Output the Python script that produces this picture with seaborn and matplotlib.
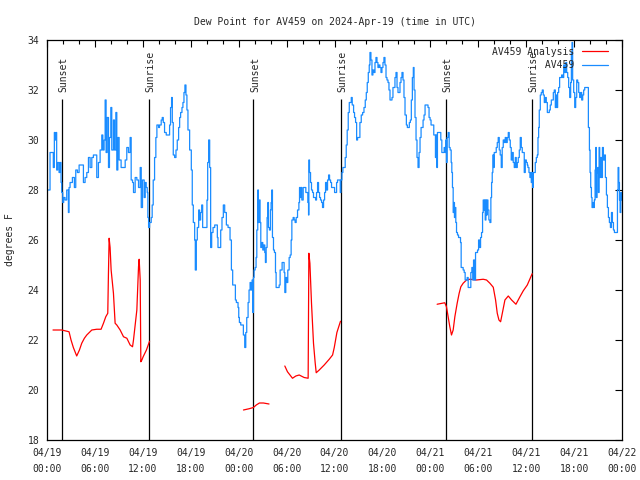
import pandas as pd
import numpy as np
import seaborn as sns
import matplotlib.pyplot as plt
import matplotlib.dates as mdates

# hours after 2024-04-19 00:00 UTC
blue_hours = [
    0.0, 0.17, 0.38, 0.67, 0.79, 0.92, 1.0, 1.13, 1.21, 1.34,
    1.51, 1.63, 1.76, 1.84, 1.97, 2.09, 2.26, 2.47, 2.68, 2.76,
    2.89, 3.18, 3.43, 3.60, 3.81, 4.02, 4.35, 4.56, 4.77, 4.98,
    5.19, 5.40, 5.61, 5.81, 6.02, 6.23, 6.44, 6.65, 6.86, 6.99,
    7.15, 7.28, 7.40, 7.53, 7.70, 7.82, 7.99, 8.11, 8.32, 8.45,
    8.62, 8.74, 8.87, 9.03, 9.28, 9.58, 9.79, 9.99, 10.20, 10.41,
    10.54, 10.71, 10.83, 11.04, 11.25, 11.46, 11.67, 11.80, 11.96,
    12.05, 12.17, 12.30, 12.42, 12.55, 12.63, 12.72, 12.84, 13.05, 13.17,
    13.30, 13.47, 13.63, 13.76, 13.97, 14.09, 14.30, 14.43, 14.56, 14.72,
    14.93, 15.14, 15.35, 15.47, 15.60, 15.69, 15.81, 15.98, 16.15, 16.31,
    16.48, 16.61, 16.73, 16.90, 17.02, 17.15, 17.27, 17.40, 17.52, 17.65,
    17.86, 18.07, 18.19, 18.32, 18.49, 18.57, 18.70, 18.82, 18.99, 19.11,
    19.24, 19.37, 19.49, 19.66, 19.82, 20.03, 20.12, 20.24, 20.37, 20.49,
    20.62, 20.79, 21.00, 21.20, 21.33, 21.41, 21.62, 21.75, 21.91, 22.08,
    22.25, 22.46, 22.67, 22.92, 23.09, 23.25, 23.42, 23.59, 23.71, 23.92, 24.01,
    24.09, 24.26, 24.47, 24.59, 24.76, 24.89, 25.01, 25.18, 25.30, 25.43,
    25.55, 25.68, 25.76, 25.85, 25.93, 26.06, 26.18, 26.27, 26.39, 26.47,
    26.56, 26.68, 26.77, 26.89, 27.02, 27.14, 27.27, 27.35, 27.44, 27.56,
    27.65, 27.73, 27.85, 27.98, 28.06, 28.15, 28.23, 28.36, 28.48, 28.61,
    28.69, 28.86, 29.07, 29.19, 29.32, 29.44, 29.57, 29.69, 29.78, 29.90,
    30.03, 30.15, 30.32, 30.45, 30.57, 30.66, 30.82, 30.95, 31.07, 31.20,
    31.37, 31.54, 31.62, 31.70, 31.79, 31.91, 32.08, 32.20, 32.41, 32.54,
    32.66, 32.75, 32.79, 32.87, 33.00, 33.12, 33.25, 33.37, 33.50, 33.63,
    33.75, 33.88, 34.00, 34.13, 34.25, 34.38, 34.50, 34.63, 34.76, 34.88,
    35.01, 35.13, 35.26, 35.38, 35.51, 35.63, 35.76, 35.88, 36.01,
    36.13, 36.26, 36.38, 36.63, 36.72, 36.80, 36.93, 37.05, 37.22, 37.34,
    37.47, 37.59, 37.72, 37.85, 37.97, 38.10, 38.22, 38.39, 38.51, 38.64,
    38.77, 38.89, 39.06, 39.18, 39.35, 39.52, 39.69, 39.85, 39.98, 40.10,
    40.23, 40.35, 40.44, 40.56, 40.69, 40.81, 40.94, 41.07, 41.19, 41.32,
    41.44, 41.57, 41.69, 41.82, 41.94, 42.07, 42.19, 42.32, 42.45, 42.57,
    42.70, 42.82, 42.95, 43.07, 43.20, 43.32, 43.45, 43.57, 43.70, 43.83,
    43.95, 44.08, 44.20, 44.33, 44.45, 44.58, 44.70, 44.83, 45.00, 45.12,
    45.25, 45.37, 45.50, 45.62, 45.75, 45.87, 45.96, 46.08, 46.21, 46.33,
    46.46, 46.59, 46.71, 46.84, 46.96, 47.09, 47.21, 47.34, 47.46, 47.59,
    47.71, 47.84, 47.97, 48.09,
    48.43, 48.56, 48.64, 48.72, 48.81, 48.89, 49.02, 49.18, 49.31, 49.44,
    49.60, 49.73, 49.85, 49.94, 50.02, 50.10, 50.23, 50.36, 50.48, 50.61,
    50.69, 50.77, 50.86, 50.94, 51.02, 51.11, 51.19, 51.28, 51.40, 51.53,
    51.65, 51.78, 51.86, 51.99, 52.11, 52.24, 52.36, 52.49, 52.61, 52.74,
    52.86, 52.99, 53.07, 53.20, 53.32, 53.41, 53.53, 53.66, 53.78, 53.91,
    54.04, 54.16, 54.29, 54.41, 54.54, 54.62, 54.70, 54.79, 54.87, 54.96,
    55.04, 55.12, 55.21, 55.33, 55.46, 55.58, 55.67, 55.75, 55.83, 55.92,
    56.00, 56.13, 56.25, 56.38, 56.50, 56.63, 56.75, 56.88, 57.00, 57.13,
    57.26, 57.38, 57.51, 57.63, 57.76, 57.88, 58.01, 58.13, 58.26, 58.38,
    58.51, 58.64, 58.76, 58.89, 59.01, 59.14, 59.26, 59.39, 59.51, 59.64,
    59.76, 59.89, 60.02, 60.14,
    60.22, 60.35, 60.47, 60.56, 60.64, 60.72, 60.81, 60.89, 61.02, 61.14,
    61.27, 61.39, 61.48, 61.56, 61.64, 61.77, 61.89, 62.02, 62.14, 62.27,
    62.40, 62.52, 62.65, 62.77, 62.90, 63.02, 63.15, 63.27, 63.40, 63.52,
    63.65, 63.73, 63.82, 63.94, 64.07, 64.19, 64.32, 64.44, 64.57, 64.70,
    64.82, 64.95, 65.07, 65.20, 65.32, 65.45, 65.57, 65.66, 65.74, 65.82,
    65.95, 66.08, 66.20, 66.33, 66.45, 66.58, 66.70, 66.83, 66.95, 67.08,
    67.20, 67.33, 67.50, 67.67, 67.79, 67.92, 68.00, 68.08, 68.17, 68.25,
    68.38, 68.46, 68.54, 68.63, 68.71, 68.79, 68.88, 68.96, 69.05, 69.13,
    69.21, 69.30, 69.42, 69.55, 69.67, 69.80, 69.92, 70.05, 70.17, 70.30,
    70.42, 70.55, 70.68, 70.80, 70.93, 71.05, 71.18, 71.30, 71.43, 71.51,
    71.60, 71.68, 71.76, 71.85, 71.93,
]
blue_dew = [
    28.0, 28.0, 29.5, 29.5, 28.9, 30.3, 30.0, 30.3, 28.8, 29.1,
    28.7, 29.1, 28.3, 27.9, 27.5, 27.7, 27.6, 28.0, 27.1, 28.1,
    28.3, 28.5, 28.1, 28.8, 28.7, 29.0, 29.0, 28.3, 28.5, 28.7,
    29.3, 28.9, 29.3, 29.4, 29.4, 28.5, 29.1, 29.6, 30.2, 29.6,
    30.0, 31.6, 29.5, 30.9, 28.9, 30.1, 31.3, 29.6, 30.8, 29.6,
    31.1, 28.8, 30.1, 29.2, 28.9, 28.9, 29.2, 29.7, 29.5, 30.1,
    28.4, 28.3, 27.9, 28.5, 28.4, 28.1, 28.9, 27.3, 28.4,
    28.4, 27.7, 28.3, 28.1, 27.9, 26.9, 26.5, 26.7, 26.9, 27.4,
    28.4, 29.3, 30.1, 30.6, 30.5, 30.6, 30.8, 30.9, 30.7, 30.3,
    30.2, 30.2, 30.6, 31.3, 31.7, 30.7, 29.4, 29.3, 29.6, 30.0,
    30.5, 30.9, 31.1, 31.3, 31.5, 31.9, 32.2, 31.8, 31.2, 30.4,
    29.6, 28.8, 27.4, 26.7, 26.0, 24.8, 26.0, 26.5, 27.2, 26.8,
    27.1, 27.4, 26.5, 26.5, 26.5, 27.6, 29.1, 30.0, 28.9, 25.7,
    26.3, 26.5, 26.6, 26.6, 26.1, 25.7, 25.7, 26.4, 26.9, 27.4,
    27.1, 26.6, 26.5, 26.0, 24.8, 24.2, 24.2, 23.6, 23.5, 23.3, 22.9,
    22.7, 22.6, 22.6, 22.2, 21.7, 22.3, 22.9, 23.5, 24.0, 24.3,
    24.0, 24.4, 23.1, 24.5, 24.8, 24.9, 25.3, 26.4, 28.0, 26.7,
    27.6, 26.7, 25.7, 25.9, 25.6, 25.8, 25.5, 25.1, 25.7, 26.9,
    27.5, 26.5, 26.4, 27.2, 27.5, 28.0, 26.1, 25.6, 25.5, 24.7,
    24.1, 24.1, 24.2, 24.8, 24.8, 25.1, 25.1, 24.7, 23.9, 24.5,
    24.3, 24.8, 25.3, 25.4, 26.0, 26.8, 26.9, 26.8, 26.7, 26.9,
    27.2, 27.5, 28.1, 27.7, 28.1, 27.6, 28.1, 28.1, 27.9, 27.9,
    27.5, 27.0, 29.2, 28.7, 28.3, 28.0, 27.9, 27.7, 27.7, 27.6,
    27.9, 28.3, 27.9, 27.7, 27.6, 27.5, 27.3, 27.6, 27.9, 28.3,
    28.0, 28.4, 28.6, 28.4, 28.3, 28.1, 28.1, 28.1, 27.9,
    27.9, 28.3, 28.4, 28.4, 27.9, 28.4, 28.7, 28.9, 28.9, 29.3,
    29.8, 30.4, 31.1, 31.5, 31.5, 31.7, 31.4, 31.1, 30.9, 30.7,
    30.0, 30.1, 30.1, 30.7, 31.0, 31.1, 31.3, 31.6, 31.9, 32.3,
    32.7, 33.0, 33.5, 33.2, 32.6, 32.8, 32.7, 33.1, 33.3, 33.1,
    32.9, 33.0, 32.9, 32.7, 32.9, 33.1, 33.3, 33.0, 32.5, 32.4,
    32.3, 32.0, 31.6, 31.6, 31.7, 32.1, 32.1, 32.5, 32.7, 32.1,
    31.9, 31.9, 32.3, 32.5, 32.7, 32.4, 31.7, 31.0, 30.6, 30.5,
    30.5, 30.7, 30.8, 31.6, 32.5, 32.9, 32.0, 30.9, 30.0, 29.3,
    28.9, 29.5, 30.1, 30.5, 30.5, 30.8, 31.0, 31.4, 31.4, 31.4,
    31.3, 30.9, 30.8, 30.6,
    30.2, 30.2, 29.3, 30.2, 28.9, 30.3, 30.3, 30.3, 30.0, 29.5,
    29.5, 29.7, 29.5, 30.0, 29.1, 30.1, 30.3, 29.7, 29.6, 29.1,
    28.7, 28.1, 27.1, 27.5, 26.9, 27.3, 26.7, 26.3, 26.2, 26.1,
    26.1, 25.9, 24.9, 24.9, 24.8, 24.7, 24.4, 24.4, 24.5, 24.1,
    24.1, 24.1, 24.7, 24.9, 24.4, 25.2, 24.4, 25.5, 25.5, 25.6,
    26.0, 25.7, 26.1, 26.3, 27.1, 27.6, 27.2, 27.6, 26.8, 27.6,
    27.0, 27.6, 27.2, 26.8, 26.7, 27.7, 28.3, 28.7, 29.4, 28.9,
    29.5, 29.5, 29.7, 29.9, 30.1, 29.6, 29.4, 28.9, 29.7, 30.0,
    29.9, 30.1, 29.9, 30.1, 30.3, 30.0, 29.7, 29.2, 29.5, 29.1,
    28.9, 29.3, 28.9, 29.1, 29.3, 29.6, 30.1, 29.7, 29.5, 29.5,
    28.7, 29.2, 29.1, 29.0,
    28.9, 28.7, 28.5, 28.7, 28.3, 28.7, 28.1, 28.7, 28.7, 29.1,
    29.3, 29.4, 30.1, 30.5, 31.2, 31.8, 31.9, 32.0, 31.8, 31.5,
    31.7, 31.5, 31.1, 31.1, 31.2, 31.4, 31.6, 31.6, 31.9, 32.0,
    31.3, 31.8, 31.3, 31.9, 32.1, 32.5, 32.5, 32.6, 32.5, 33.0,
    32.7, 33.1, 32.7, 32.5, 32.1, 31.7, 32.3, 33.5, 33.9, 32.4,
    31.9, 31.3, 31.7, 32.4, 32.3, 31.9, 31.7, 31.9, 31.6, 31.8,
    32.0, 32.1, 32.1, 32.1, 30.5, 29.6, 28.7, 28.1, 27.7, 27.3,
    27.5, 27.3, 27.6, 28.8, 29.7, 27.7, 28.7, 28.9, 27.9, 29.7,
    28.5, 29.3, 28.5, 29.7, 29.2, 29.4, 28.5, 27.8, 27.3, 26.9,
    26.7, 26.5, 27.1, 26.7, 26.4, 26.3, 26.3, 26.3, 28.0, 28.9,
    28.3, 27.6, 27.1, 27.9, 27.6,
]

# AV459 Analysis, drawn as separate pieces (gaps between them)
red_hours = [
    0.75, 1.84, 2.76, 3.01, 3.30, 3.72, 4.06, 4.35, 4.68, 4.98,
    5.61, 6.23, 6.77, 7.07, 7.36, 7.61, 7.69, 7.78, 7.90, 8.03,
    8.32, 8.53, 8.74, 9.16, 9.58, 10.00, 10.41, 10.71, 10.83, 11.04,
    11.25, 11.46, 11.54, 11.67, 11.75, 11.88, 12.04, 12.45, 12.84,
    24.60, 25.30, 25.85, 26.20, 26.60, 27.10, 27.80,
    29.78, 30.11, 30.74, 31.16, 31.58, 32.20, 32.70, 32.79, 32.92, 33.12,
    33.37, 33.58, 33.71, 34.09, 34.71, 35.34, 35.76, 35.97, 36.30, 36.75,
    48.85, 49.81, 50.02, 50.23, 50.44, 50.65, 50.86, 51.07, 51.36, 51.61,
    51.82, 52.11, 52.53, 52.95, 53.78, 54.62, 55.04, 55.46, 55.88, 56.17,
    56.38, 56.59, 56.80, 57.05, 57.34, 57.76, 58.18, 58.72, 59.22, 59.64,
    60.14, 60.75,
]
red_dew = [
    22.4, 22.4, 22.33, 22.0, 21.7, 21.36, 21.6, 21.87, 22.07, 22.2,
    22.4, 22.43, 22.43, 22.67, 22.93, 23.07, 24.6, 26.07, 25.7, 24.8,
    23.87, 22.67, 22.6, 22.4, 22.13, 22.07, 21.8, 21.73, 22.0, 22.6,
    23.2, 24.93, 25.23, 24.4, 21.13, 21.2, 21.33, 21.6, 21.95,
    19.2, 19.25, 19.3, 19.4, 19.48, 19.48, 19.44,
    20.96, 20.73, 20.47, 20.56, 20.6, 20.5, 20.47, 25.47, 25.07, 23.47,
    21.87, 21.09, 20.69, 20.8, 21.0, 21.23, 21.4, 21.7, 22.3, 22.75,
    23.43, 23.49, 23.33, 22.93, 22.53, 22.2, 22.4, 22.93, 23.47, 23.87,
    24.13, 24.27, 24.4, 24.43, 24.4, 24.43, 24.4, 24.27, 24.11, 23.6,
    23.07, 22.8, 22.73, 23.13, 23.6, 23.76, 23.6, 23.43, 23.73, 23.97,
    24.2, 24.65,
]
red_piece = [1] * 39 + [2] * 7 + [3] * 20 + [4] * 32

sun_names = ["Sunset", "Sunrise", "Sunset", "Sunrise", "Sunset", "Sunrise"]
sun_hours = [1.88, 12.71, 25.85, 36.76, 49.94, 60.77]

base = pd.Timestamp("2024-04-19 00:00")
blue = pd.DataFrame({"time": base + pd.to_timedelta(blue_hours, unit="h"), "dew": blue_dew})
red = pd.DataFrame({"time": base + pd.to_timedelta(red_hours, unit="h"), "dew": red_dew, "piece": red_piece})
sun_times = base + pd.to_timedelta(sun_hours, unit="h")

sns.set_style("white")
plt.rcParams["font.family"] = ["DejaVu Sans Mono"]
plt.rcParams["font.size"] = 7

fig = plt.figure(figsize=(6.4, 4.8), dpi=100)
ax = fig.add_axes([47 / 640, 40 / 480, 575 / 640, 400 / 480])

ax.vlines(sun_times, 18, 31.65, colors="black", lw=0.9)
for name, t in zip(sun_names, sun_times):
    ax.text(mdates.date2num(t) + 0.008, 31.9, name, rotation=90, ha="center", va="bottom", fontsize=7)

sns.lineplot(data=red, x="time", y="dew", units="piece", estimator=None, color="#ff0000", lw=0.9, ax=ax)
n_red = len(ax.lines)
sns.lineplot(data=blue, x="time", y="dew", estimator=None, color="#1a8cff", lw=0.9, drawstyle="steps-post", ax=ax)
red_line = ax.lines[0]
blue_line = ax.lines[n_red]

ax.set_xlim(base, base + pd.Timedelta(hours=72))
ax.set_ylim(18, 34)
major = pd.date_range(base, periods=13, freq="6h")
ax.set_xticks(major, [t.strftime("%m/%d\n%H:%M") for t in major])
ax.set_xticks(pd.date_range(base, periods=37, freq="2h"), minor=True)
ax.set_yticks(range(18, 35, 2))
for t in ax.get_xticklabels():
    t.set_linespacing(1.75)

ax.tick_params(which="both", direction="in", top=True, right=True, color="black", width=0.8, labelsize=7)
ax.tick_params(which="major", length=5, pad=5.5)
ax.tick_params(which="minor", length=3)
for s in ax.spines.values():
    s.set_color("black")
    s.set_linewidth(0.9)

ax.set_xlabel("")
ax.set_ylabel("degrees F", fontsize=7)
ax.yaxis.set_label_coords(-0.056, 0.5)
ax.set_title("Dew Point for AV459 on 2024-Apr-19 (time in UTC)", fontsize=7, pad=11)

ax.legend([red_line, blue_line], ["AV459 Analysis", "         AV459"], loc="upper right",
          bbox_to_anchor=(0.988, 1.0), frameon=False, markerfirst=False, handlelength=2.7,
          handletextpad=0.8, labelspacing=0.35, borderaxespad=0.3, fontsize=7)

fig.savefig("out.png", dpi=100)
